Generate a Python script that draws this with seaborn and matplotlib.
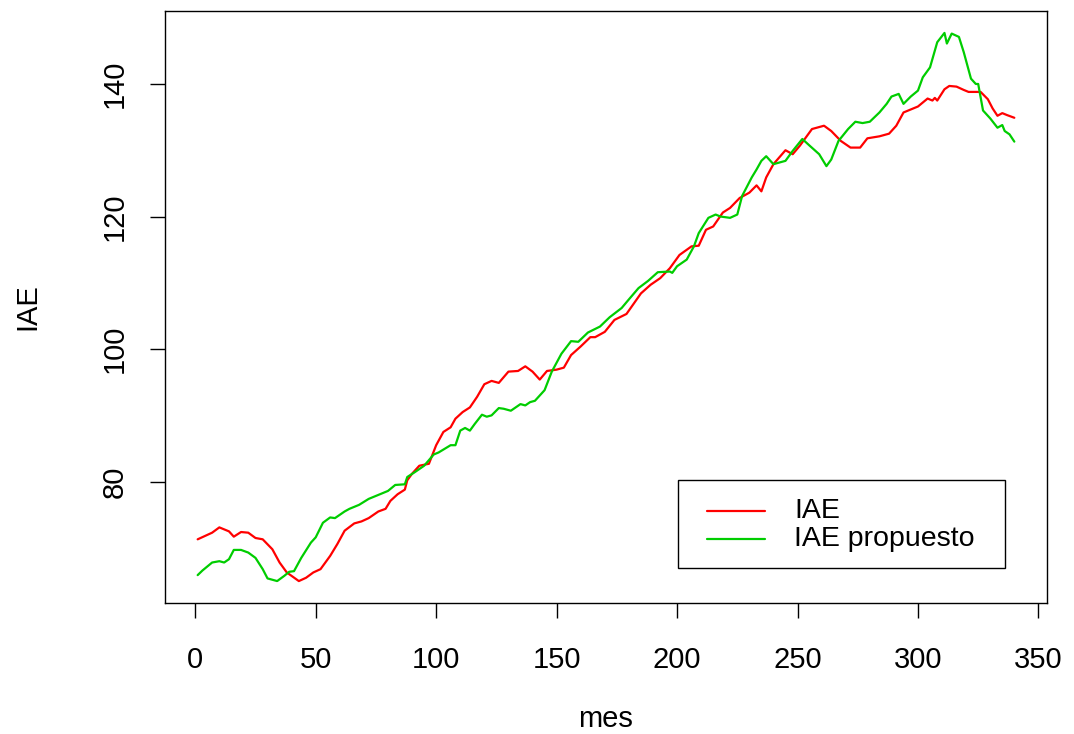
import numpy as np
import pandas as pd
import seaborn as sns
import matplotlib.pyplot as plt
from matplotlib.lines import Line2D
from matplotlib.patches import Rectangle

# IAE index (observed), month -> value
mes_iae = [1, 4, 7, 10, 14, 16, 19, 22, 25, 28, 32, 35, 38, 43, 46, 49, 52, 56, 59, 62,
           66, 69, 72, 76, 79, 81, 84, 87, 88, 90, 93, 97, 100, 103, 106, 108, 111, 114, 117, 120,
           123, 126, 130, 134, 137, 140, 143, 146, 150, 153, 156, 160, 164, 166, 170, 174, 179, 185, 189, 193,
           197, 201, 206, 209, 212, 215, 219, 222, 226, 230, 233, 235, 237, 240, 245, 248, 251, 256, 261, 264,
           268, 272, 276, 279, 284, 288, 291, 294, 298, 300, 304, 306, 307, 308, 311, 313, 316, 319, 321, 326,
           329, 331, 333, 335, 337, 340]
iae = [71.3, 71.8, 72.3, 73.1, 72.5, 71.7, 72.4, 72.3, 71.5, 71.3, 69.8, 67.8, 66.3, 65.0, 65.5, 66.3, 66.8, 68.8, 70.6, 72.6,
       73.7, 74.0, 74.5, 75.5, 75.9, 77.1, 78.1, 78.8, 80.2, 81.2, 82.4, 82.7, 85.5, 87.5, 88.2, 89.5, 90.5, 91.2, 92.8, 94.7,
       95.2, 94.9, 96.6, 96.7, 97.4, 96.6, 95.4, 96.7, 96.9, 97.2, 99.1, 100.4, 101.8, 101.8, 102.6, 104.4, 105.3, 108.4, 109.7, 110.7,
       112.2, 114.2, 115.5, 115.6, 118.0, 118.5, 120.6, 121.3, 122.8, 123.6, 124.7, 123.8, 125.9, 127.9, 130.0, 129.4, 130.7, 133.2, 133.7, 132.9,
       131.4, 130.4, 130.4, 131.8, 132.1, 132.5, 133.7, 135.7, 136.3, 136.6, 137.8, 137.5, 137.9, 137.5, 139.2, 139.7, 139.6, 139.1, 138.8, 138.8,
       137.7, 136.3, 135.2, 135.6, 135.3, 134.9]

# Proposed IAE index, month -> value
mes_prop = [1, 3, 7, 10, 12, 14, 16, 19, 22, 25, 28, 30, 34, 37, 39, 41, 44, 48, 50, 53,
            56, 58, 62, 64, 68, 72, 76, 80, 83, 87, 88, 91, 95, 99, 101, 106, 108, 110, 112, 114,
            116, 119, 121, 123, 126, 128, 131, 135, 137, 139, 141, 145, 148, 152, 156, 159, 163, 168, 172, 177,
            180, 184, 188, 192, 197, 198, 200, 204, 207, 209, 213, 216, 218, 222, 225, 227, 231, 233, 235, 237,
            240, 245, 248, 252, 255, 259, 262, 264, 267, 271, 274, 277, 280, 284, 287, 289, 292, 294, 297, 300,
            302, 305, 308, 311, 312, 314, 317, 319, 322, 324, 325, 327, 330, 333, 335, 336, 338, 340]
iae_prop = [65.9, 66.6, 67.8, 68.0, 67.8, 68.3, 69.7, 69.7, 69.3, 68.5, 66.8, 65.4, 65.0, 65.8, 66.4, 66.5, 68.5, 70.8, 71.6, 73.8,
            74.6, 74.5, 75.5, 75.9, 76.5, 77.4, 78.0, 78.6, 79.5, 79.6, 80.7, 81.4, 82.4, 84.1, 84.4, 85.5, 85.5, 87.7, 88.1, 87.7,
            88.7, 90.1, 89.8, 90.0, 91.1, 91.0, 90.7, 91.7, 91.5, 92.0, 92.2, 93.8, 96.6, 99.3, 101.2, 101.1, 102.5, 103.4, 104.8, 106.2,
            107.5, 109.2, 110.3, 111.6, 111.7, 111.5, 112.5, 113.5, 115.5, 117.5, 119.8, 120.3, 120.0, 119.8, 120.3, 123.1, 125.9, 127.1, 128.4, 129.1,
            127.9, 128.4, 129.9, 131.7, 130.7, 129.4, 127.6, 128.6, 131.4, 133.2, 134.3, 134.1, 134.3, 135.7, 137.0, 138.1, 138.5, 137.0, 138.1, 139.0,
            141.0, 142.5, 146.3, 147.7, 146.1, 147.6, 147.1, 144.8, 140.8, 140.0, 140.0, 136.0, 134.8, 133.4, 133.8, 132.9, 132.4, 131.3]

series_names = ["IAE", "IAE propuesto"]
series_colors = ["#FF0000", "#00CD00"]
x_ticks = [0, 50, 100, 150, 200, 250, 300, 350]
y_ticks = [80, 100, 120, 140]

df = pd.concat([
    pd.DataFrame({"mes": mes_iae, "valor": iae, "serie": series_names[0]}),
    pd.DataFrame({"mes": mes_prop, "valor": iae_prop, "serie": series_names[1]}),
], ignore_index=True)

sns.set_style("ticks")
plt.rcParams["font.family"] = ["Liberation Sans", "DejaVu Sans"]
plt.rcParams["text.color"] = "black"
plt.rcParams["axes.labelcolor"] = "black"

FS = 21

fig = plt.figure(figsize=(10.74, 7.34), dpi=100)
W, H = 1074, 734
ax_l, ax_r, ax_t, ax_b = 165, 1047, 11, 603
ax = fig.add_axes([ax_l / W, 1 - ax_b / H, (ax_r - ax_l) / W, (ax_b - ax_t) / H])

palette = dict(zip(series_names, series_colors))
sns.lineplot(data=df, x="mes", y="valor", hue="serie", palette=palette,
             estimator=None, sort=False, legend=False, linewidth=1.6, ax=ax)

# R-style 4% padding around the data range
xmin, xmax = 1, 340
ymin = min(min(iae), min(iae_prop))
ymax = max(max(iae), max(iae_prop))
dx, dy = (xmax - xmin) * 0.04, (ymax - ymin) * 0.04
ax.set_xlim(xmin - dx, xmax + dx)
ax.set_ylim(ymin - dy, ymax + dy)

ax.set_xticks(x_ticks)
ax.set_yticks(y_ticks)
ax.set_xticklabels([str(t) for t in x_ticks])
ax.set_yticklabels([str(t) for t in y_ticks], rotation=90, va="center")
ax.tick_params(axis="both", direction="out", length=11, width=1.0,
               colors="black", labelcolor="black", labelsize=FS)
ax.tick_params(axis="x", pad=20)
ax.tick_params(axis="y", pad=15)

for s in ax.spines.values():
    s.set_visible(True)
    s.set_color("black")
    s.set_linewidth(1.0)

ax.set_xlabel("mes", fontsize=FS, va="center", color="black")
ax.set_ylabel("IAE", fontsize=FS, va="center", color="black")
ax.xaxis.set_label_coords(0.5, (ax_b - 719) / (ax_b - ax_t))
ax.yaxis.set_label_coords((27 - ax_l) / (ax_r - ax_l), 0.5)

# Legend box in the lower right
aw, ah = ax_r - ax_l, ax_b - ax_t
def fx(px):
    return (px - ax_l) / aw
def fy(py):
    return (ax_b - py) / ah

ax.add_patch(Rectangle((fx(678), fy(568)), fx(1005) - fx(678), fy(480) - fy(568),
                       transform=ax.transAxes, fill=False, edgecolor="black",
                       linewidth=1.0, zorder=5))
for name, col, row in zip(series_names, series_colors, [510.7, 539]):
    ax.add_line(Line2D([fx(707), fx(765)], [fy(row), fy(row)], color=col,
                       linewidth=1.6, transform=ax.transAxes, zorder=6))
    ax.text(fx(794), fy(row), name, transform=ax.transAxes, fontsize=FS - 0.5,
            va="center", ha="left", zorder=6, color="black")

fig.savefig("out.png", dpi=100, facecolor="white")
